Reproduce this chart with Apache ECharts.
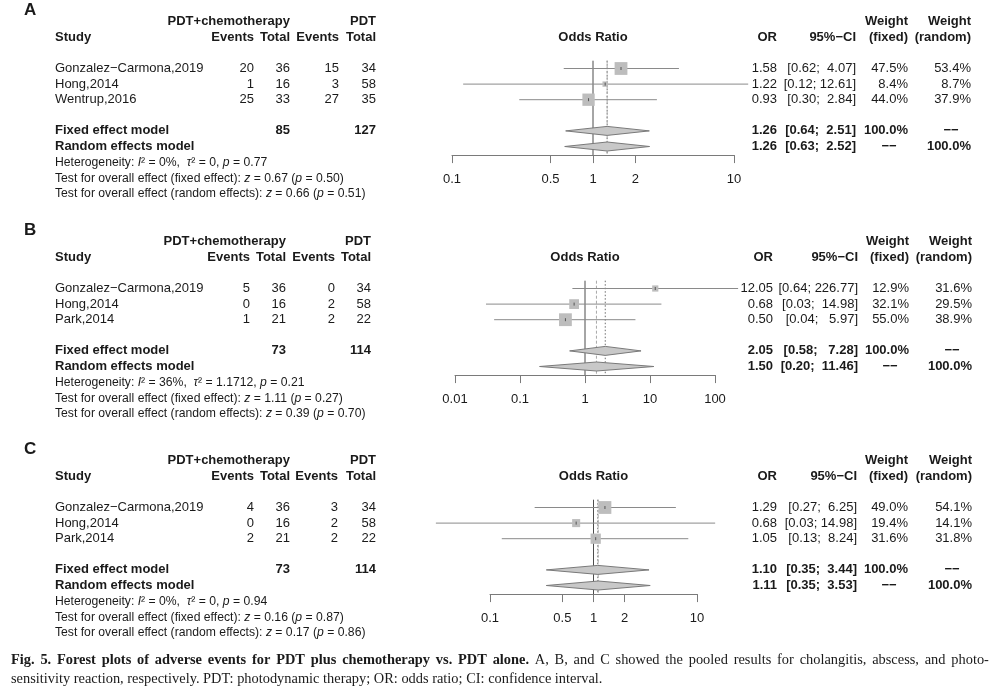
<!DOCTYPE html>
<html>
<head>
<meta charset="utf-8">
<script src="https://cdn.jsdelivr.net/npm/echarts@6/dist/echarts.min.js"></script>
<style>
html, body { margin: 0; padding: 0; background: #fff; }
#box { width: 995px; height: 691px; }
</style>
</head>
<body>
<div id="box"></div>
<script>
// A: cholangitis
var studiesA = ['Gonzalez\u2212Carmona,2019', 'Hong,2014', 'Wentrup,2016'];
var evTrtA = [20, 1, 25], totTrtA = [36, 16, 33], evCtlA = [15, 3, 27], totCtlA = [34, 58, 35];
var orA = [1.58, 1.22, 0.93], lowA = [0.62, 0.12, 0.30], upA = [4.07, 12.61, 2.84];
var wFixA = [47.5, 8.4, 44.0], wRanA = [53.4, 8.7, 37.9];
var fixedA = [1.26, 0.64, 2.51], randomA = [1.26, 0.63, 2.52], sumTotA = [85, 127];
var hetA = ['0%', '0', '0.77'], testFixA = ['0.67', '0.50'], testRanA = ['0.66', '0.51'];
var ticksA = [0.1, 0.5, 1, 2, 10];

// B: abscess
var studiesB = ['Gonzalez\u2212Carmona,2019', 'Hong,2014', 'Park,2014'];
var evTrtB = [5, 0, 1], totTrtB = [36, 16, 21], evCtlB = [0, 2, 2], totCtlB = [34, 58, 22];
var orB = [12.05, 0.68, 0.50], lowB = [0.64, 0.03, 0.04], upB = [226.77, 14.98, 5.97];
var wFixB = [12.9, 32.1, 55.0], wRanB = [31.6, 29.5, 38.9];
var fixedB = [2.05, 0.58, 7.28], randomB = [1.50, 0.20, 11.46], sumTotB = [73, 114];
var hetB = ['36%', '1.1712', '0.21'], testFixB = ['1.11', '0.27'], testRanB = ['0.39', '0.70'];
var ticksB = [0.01, 0.1, 1, 10, 100];

// C: photosensitivity reaction
var studiesC = ['Gonzalez\u2212Carmona,2019', 'Hong,2014', 'Park,2014'];
var evTrtC = [4, 0, 2], totTrtC = [36, 16, 21], evCtlC = [3, 2, 2], totCtlC = [34, 58, 22];
var orC = [1.29, 0.68, 1.05], lowC = [0.27, 0.03, 0.13], upC = [6.25, 14.98, 8.24];
var wFixC = [49.0, 19.4, 31.6], wRanC = [54.1, 14.1, 31.8];
var fixedC = [1.10, 0.35, 3.44], randomC = [1.11, 0.35, 3.53], sumTotC = [73, 114];
var hetC = ['0%', '0', '0.94'], testFixC = ['0.16', '0.87'], testRanC = ['0.17', '0.86'];
var ticksC = [0.1, 0.5, 1, 2, 10];

var captionBold = 'Fig. 5. Forest plots of adverse events for PDT plus chemotherapy vs. PDT alone.';
var captionRest1 = 'A, B, and C showed the pooled results for cholangitis, abscess, and photo-';
var captionRest2 = 'sensitivity reaction, respectively. PDT: photodynamic therapy; OR: odds ratio; CI: confidence interval.';

var ROW = 15.6;
var FONT = '"Liberation Sans", Arial, Helvetica, sans-serif';
var SERIF = '"Liberation Serif", "Times New Roman", serif';
var INK = '#1a1a1a';
var DASH = '\u2212\u2212';

var panels = [
    { letter: 'A', studies: studiesA, evT: evTrtA, totT: totTrtA, evC: evCtlA, totC: totCtlA,
      or: orA, lo: lowA, hi: upA, wf: wFixA, wr: wRanA, fixed: fixedA, random: randomA, sums: sumTotA,
      het: hetA, tf: testFixA, tr: testRanA, ticks: ticksA,
      y0: 68.5, x0: 452, x1: 734, cols: [254, 290, 339, 376, 777, 856, 908, 971] },
    { letter: 'B', studies: studiesB, evT: evTrtB, totT: totTrtB, evC: evCtlB, totC: totCtlB,
      or: orB, lo: lowB, hi: upB, wf: wFixB, wr: wRanB, fixed: fixedB, random: randomB, sums: sumTotB,
      het: hetB, tf: testFixB, tr: testRanB, ticks: ticksB,
      y0: 288.5, x0: 455, x1: 715, cols: [250, 286, 335, 371, 773, 858, 909, 972] },
    { letter: 'C', studies: studiesC, evT: evTrtC, totT: totTrtC, evC: evCtlC, totC: totCtlC,
      or: orC, lo: lowC, hi: upC, wf: wFixC, wr: wRanC, fixed: fixedC, random: randomC, sums: sumTotC,
      het: hetC, tf: testFixC, tr: testRanC, ticks: ticksC,
      y0: 507.5, x0: 490, x1: 697, cols: [254, 290, 338, 376, 777, 857, 908, 972] }
];

function padLeft(s, n) {
    while (s.length < n) s = ' ' + s;
    return s;
}

function tableRows(p) {
    var c = p.cols;
    var his = p.hi.concat([p.fixed[2], p.random[2]]);
    var los = p.lo.concat([p.fixed[1], p.random[1]]);
    var wh = 0, wl = 0;
    his.forEach(function (v) { wh = Math.max(wh, v.toFixed(2).length); });
    los.forEach(function (v) { wl = Math.max(wl, v.toFixed(2).length); });
    function ci(lo, hi) {
        return '[' + padLeft(lo.toFixed(2), wl) + '; ' + padLeft(hi.toFixed(2), wh) + ']';
    }
    var rows = [];
    rows.push({ row: -3.75, items: [{ x: 24, t: p.letter, align: 'left', bold: true, size: 17 }] });
    rows.push({ row: -3, items: [
        { x: c[1], t: 'PDT+chemotherapy', bold: true }, { x: c[3], t: 'PDT', bold: true },
        { x: c[6], t: 'Weight', bold: true }, { x: c[7], t: 'Weight', bold: true }] });
    rows.push({ row: -2, items: [
        { x: 55, t: 'Study', align: 'left', bold: true },
        { x: c[0], t: 'Events', bold: true }, { x: c[1], t: 'Total', bold: true },
        { x: c[2], t: 'Events', bold: true }, { x: c[3], t: 'Total', bold: true },
        { mid: true, t: 'Odds Ratio', align: 'center', bold: true },
        { x: c[4], t: 'OR', bold: true }, { x: c[5], t: '95%\u2212CI', bold: true },
        { x: c[6], t: '(fixed)', bold: true }, { x: c[7], t: '(random)', bold: true }] });
    for (var i = 0; i < p.studies.length; i++) {
        rows.push({ row: i, items: [
            { x: 55, t: p.studies[i], align: 'left' },
            { x: c[0], t: String(p.evT[i]) }, { x: c[1], t: String(p.totT[i]) },
            { x: c[2], t: String(p.evC[i]) }, { x: c[3], t: String(p.totC[i]) },
            { x: c[4], t: p.or[i].toFixed(2) }, { x: c[5], t: ci(p.lo[i], p.hi[i]) },
            { x: c[6], t: p.wf[i].toFixed(1) + '%' }, { x: c[7], t: p.wr[i].toFixed(1) + '%' }] });
    }
    rows.push({ row: 4, items: [
        { x: 55, t: 'Fixed effect model', align: 'left', bold: true },
        { x: c[1], t: String(p.sums[0]), bold: true }, { x: c[3], t: String(p.sums[1]), bold: true },
        { x: c[4], t: p.fixed[0].toFixed(2), bold: true }, { x: c[5], t: ci(p.fixed[1], p.fixed[2]), bold: true },
        { x: c[6], t: '100.0%', bold: true }, { x: c[7] - 20, t: DASH, align: 'center', bold: true }] });
    rows.push({ row: 5, items: [
        { x: 55, t: 'Random effects model', align: 'left', bold: true },
        { x: c[4], t: p.random[0].toFixed(2), bold: true }, { x: c[5], t: ci(p.random[1], p.random[2]), bold: true },
        { x: c[6] - 19, t: DASH, align: 'center', bold: true }, { x: c[7], t: '100.0%', bold: true }] });
    rows.push({ row: 6.03, items: [{ x: 55, align: 'left', rich: true,
        t: '{n|Heterogeneity: }{i|I}{n|\u00b2 = ' + p.het[0] + ',  }{i|\u03c4}{n|\u00b2 = ' + p.het[1] + ', }{i|p}{n| = ' + p.het[2] + '}' }] });
    rows.push({ row: 7.05, items: [{ x: 55, align: 'left', rich: true,
        t: '{n|Test for overall effect (fixed effect): }{i|z}{n| = ' + p.tf[0] + ' (}{i|p}{n| = ' + p.tf[1] + ')}' }] });
    rows.push({ row: 8.05, items: [{ x: 55, align: 'left', rich: true,
        t: '{n|Test for overall effect (random effects): }{i|z}{n| = ' + p.tr[0] + ' (}{i|p}{n| = ' + p.tr[1] + ')}' }] });
    return rows;
}

var smallRich = {
    n: { fontSize: 12.2, fontFamily: FONT, fill: INK },
    i: { fontSize: 12.2, fontFamily: FONT, fontStyle: 'italic', fill: INK }
};

var grids = [], xAxes = [], yAxes = [], series = [];

panels.forEach(function (p, k) {
    var lo = p.ticks[0], hi = p.ticks[p.ticks.length - 1];
    var wmax = Math.max.apply(null, p.wf);
    grids.push({ left: p.x0, width: p.x1 - p.x0, top: p.y0 - 0.5 * ROW, height: 6.05 * ROW });
    xAxes.push({
        type: 'log', logBase: 10, gridIndex: k, min: lo, max: hi, position: 'bottom',
        axisLine: { onZero: false, lineStyle: { color: '#7a7a7a', width: 1 } },
        axisTick: { customValues: p.ticks, length: 8, lineStyle: { color: '#7a7a7a' } },
        axisLabel: {
            customValues: p.ticks, margin: 18, color: INK, fontSize: 13, fontFamily: FONT,
            formatter: function (v) { return String(parseFloat(Number(v).toPrecision(2))); }
        },
        splitLine: { show: false }, minorTick: { show: false }
    });
    yAxes.push({ type: 'value', gridIndex: k, min: -0.5, max: 5.55, inverse: true, show: false });

    // reference lines: no effect, fixed estimate, random estimate
    series.push({
        type: 'custom', xAxisIndex: k, yAxisIndex: k, clip: false, silent: true,
        data: [[1, 0], [p.fixed[0], 1], [p.random[0], 2]],
        renderItem: function (params, api) {
            var v = api.value(0), kind = api.value(1);
            var a = api.coord([v, -0.5]), b = api.coord([v, 5.55]);
            var st = kind === 0 ? { stroke: '#4d4d4d', lineWidth: 1 }
                : kind === 1 ? { stroke: '#6e6e6e', lineWidth: 1, lineDash: [1.5, 2] }
                : { stroke: '#a8a8a8', lineWidth: 1, lineDash: [3, 2] };
            return { type: 'line', shape: { x1: a[0], y1: a[1], x2: b[0], y2: b[1] }, style: st };
        }
    });

    // studies: CI line, weight box, centre tick
    series.push({
        type: 'custom', xAxisIndex: k, yAxisIndex: k, clip: false, silent: true,
        data: p.or.map(function (v, i) { return [v, p.lo[i], p.hi[i], p.wf[i], i]; }),
        renderItem: function (params, api) {
            var row = api.value(4);
            var c = api.coord([api.value(0), row]);
            var a = api.coord([api.value(1), row]);
            var b = api.coord([api.value(2), row]);
            var s = 12.8 * Math.sqrt(api.value(3) / wmax);
            return { type: 'group', children: [
                { type: 'line', shape: { x1: a[0], y1: c[1], x2: b[0], y2: c[1] }, style: { stroke: '#8a8a8a', lineWidth: 1 } },
                { type: 'rect', shape: { x: c[0] - s / 2, y: c[1] - s / 2, width: s, height: s }, style: { fill: '#bdbdbd' } },
                { type: 'line', shape: { x1: c[0], y1: c[1] - 1.5, x2: c[0], y2: c[1] + 1.5 }, style: { stroke: '#555', lineWidth: 1 } }
            ] };
        }
    });

    // pooled diamonds
    series.push({
        type: 'custom', xAxisIndex: k, yAxisIndex: k, clip: false, silent: true,
        data: [p.fixed.concat([4]), p.random.concat([5])],
        renderItem: function (params, api) {
            var row = api.value(3);
            var c = api.coord([api.value(0), row]);
            var a = api.coord([api.value(1), row]);
            var b = api.coord([api.value(2), row]);
            return { type: 'polygon',
                shape: { points: [[a[0], c[1]], [c[0], c[1] - 4.5], [b[0], c[1]], [c[0], c[1] + 4.5]] },
                style: { fill: '#c8c8c8', stroke: '#7a7a7a', lineWidth: 1 } };
        }
    });

    // table text, one item per row
    var rows = tableRows(p);
    var mid = Math.sqrt(lo * hi);
    series.push({
        type: 'custom', xAxisIndex: k, yAxisIndex: k, clip: false, silent: true,
        data: rows.map(function (r) { return [mid, r.row]; }),
        renderItem: function (params, api) {
            var r = rows[params.dataIndex];
            var pt = api.coord([api.value(0), api.value(1)]);
            return { type: 'group', children: r.items.map(function (it) {
                var st = {
                    text: it.t, fill: INK, fontFamily: FONT, fontSize: it.size || 13,
                    fontWeight: it.bold ? 'bold' : 'normal',
                    align: it.align || 'right', verticalAlign: 'middle'
                };
                if (it.rich) st.rich = smallRich;
                return { type: 'text', x: it.mid ? pt[0] : it.x, y: pt[1], style: st };
            }) };
        }
    });
});

// first caption line is justified: widen the spaces between words
function justified(text, style) {
    return text.split(' ').map(function (w) { return '{' + style + '|' + w + '}'; }).join('{s| }');
}
var captionText = justified(captionBold, 'b') + '{s| }' + justified(captionRest1, 'r') +
    '\n{r|' + captionRest2 + '}';

var myChart = echarts.init(document.getElementById('box'));
var option = {
    backgroundColor: '#fff',
    animation: false,
    textStyle: { fontFamily: FONT },
    grid: grids,
    xAxis: xAxes,
    yAxis: yAxes,
    series: series,
    graphic: [{
        type: 'text', left: 11, top: 653,
        style: {
            text: captionText,
            rich: {
                b: { fontFamily: SERIF, fontSize: 14.4, fontWeight: 'bold', fill: INK, lineHeight: 19 },
                r: { fontFamily: SERIF, fontSize: 14.4, fill: INK, lineHeight: 19 },
                s: { fontFamily: SERIF, fontSize: 14.4, fill: INK, lineHeight: 19, width: 5.8 }
            }
        }
    }]
};
myChart.setOption(option);
</script>
</body>
</html>
